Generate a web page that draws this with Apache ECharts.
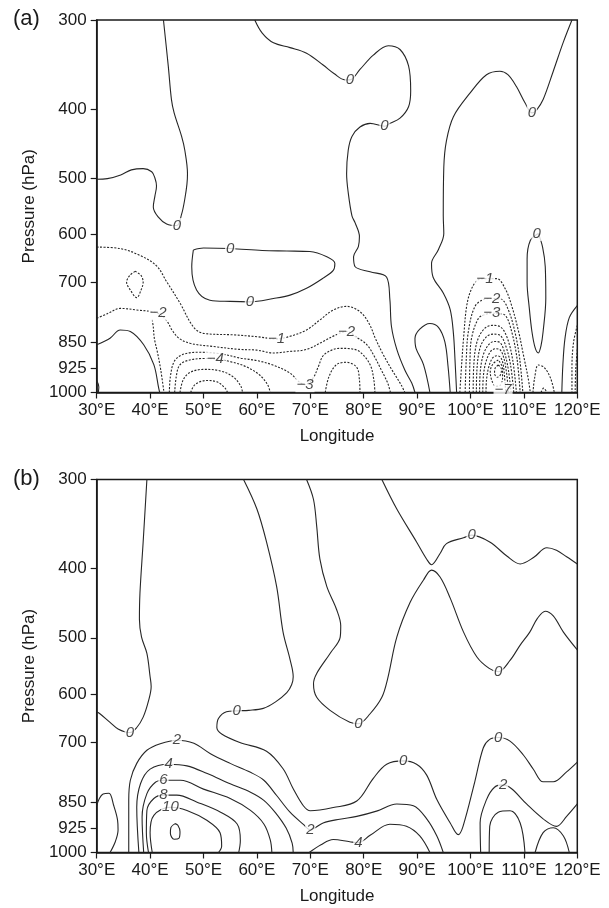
<!DOCTYPE html>
<html>
<head>
<meta charset="utf-8">
<script src="https://cdn.jsdelivr.net/npm/echarts@6/dist/echarts.min.js"></script>
<style>
  html, body { margin: 0; padding: 0; background: #fff; }
  #chart { width: 609px; height: 908px; }
</style>
</head>
<body>
<div id="chart"></div>
<script>
// Axis ticks
const lonTicks = [30, 40, 50, 60, 70, 80, 90, 100, 110, 120];
const pressureTicks = [300, 400, 500, 600, 700, 850, 925, 1000];

// ---------- Panel (a): contour lines as [longitude (°E), pressure (hPa)] ----------
const A_zeroWest = [[30,502],[32,501],[34.5,495],[36.5,487],[38.7,485],[40.3,490],[40.9,500],[41.2,513],[40.9,530],[40.6,549],[41.5,567],[43.1,580],[45,583],[45.9,562],[46.5,535],[46.9,510],[47,493],[46.5,457],[45.9,437],[44.5,405],[44,388],[43.4,348],[42.5,300]];
const A_zeroCentral = [[59.6,300],[61,313],[63.1,323],[66.2,328],[69.3,334],[72.4,347],[74.5,357],[76.5,364],[77.4,364],[79.3,352],[81.8,336],[84.6,326],[86.8,330],[88.4,348],[88.8,377],[88.4,397],[86.8,412],[84.9,419],[83.9,423],[81.2,419],[79.3,424],[77.8,437],[77.1,457],[76.8,493],[77.1,524],[77.8,565],[78.4,578],[79.2,604],[79,624],[78.1,645],[78.4,666],[81.2,677],[84.3,689],[84.9,740],[85.2,808],[86.2,870],[87.7,930],[89,970],[89.6,1000]];
const A_zeroEast = [[119,300],[117.4,322],[115.5,354],[113.6,388],[112.4,401],[111.5,405],[110.2,392],[108.6,372],[107,358],[105.5,354],[103,358],[99.9,380],[96.8,410],[95.5,443],[95,483],[94.9,565],[95,598],[94,630],[92.7,659],[93,689],[94.9,725],[96.2,765],[96.8,826],[97.1,900],[97.4,1000]];
const A_zeroLoop = [[48.1,631],[47.8,666],[48.7,718],[51.2,742],[55,745],[58.7,746],[63.1,738],[66.2,730],[69.3,714],[72.4,691],[74.3,674],[74.6,659],[73.1,645],[69.9,634],[65.6,633],[61,632],[55,628],[50,627],[48.1,631]];
const A_zeroNarrow = [[112.7,598],[111.2,612],[110.6,650],[110.6,700],[111,760],[111.5,821],[112.1,865],[112.7,880],[113.2,860],[113.6,821],[114.1,738],[114,666],[113.5,625],[112.7,598]];
const A_zeroArch = [[92.4,1000],[91.2,914],[89.8,867],[89.6,840],[90.5,815],[92.4,800],[94,810],[95.2,849],[95.8,920],[96.2,1000]];
const A_zeroLow = [[30,857],[32.5,839],[34.4,817],[36.3,821],[38.8,857],[40.7,914],[41.6,985],[41.8,1000]];
const A_zeroCorner = [[30,962],[30.4,982],[30.3,1000]];
const A_zeroEdge = [[120,755],[118.5,785],[117.7,839],[117.3,914],[117.1,1000]];

const A_m1West = [[30,625],[34.4,628],[38.1,642],[41.2,664],[43.1,699],[45.6,749],[48.1,809],[50,826],[55.6,830],[60,835],[63.7,841],[66.2,834],[69.3,817],[71.8,791],[74.3,766],[76.8,757],[79.3,770],[81,800],[82.2,840],[83.5,880],[85.3,930],[87,975],[87.7,1000]];
const A_m2Pocket = [[37.2,676],[36.2,685],[35.6,700],[36.3,718],[37.5,736],[38.3,718],[38.7,700],[38.3,685],[37.2,676]];
const A_m2West = [[30,787],[32,775],[34.4,762],[37.5,766],[41.5,774],[43.2,795],[44.1,817],[45.4,839],[47.5,853],[51.9,862],[56.8,870],[60,872],[63.1,880],[66,876],[69.3,870],[72.4,848],[74.5,832],[76.8,821],[78.7,837],[80.6,857],[82,890],[83.3,930],[84.5,970],[85,1000]];
const A_m2Stem = [[40.4,790],[40.6,810],[40.8,840],[41.4,880],[42,930],[42.6,1000]];
const A_m3West = [[43.6,1000],[43.8,950],[44.5,905],[46,885],[49,878],[53,882],[57,895],[60,902],[63,915],[66,937],[69,975],[70.5,955],[71.5,920],[72.4,888],[74,872],[75.6,867],[77.5,868],[79.3,877],[81.2,914],[81.9,960],[82.1,1000]];
const A_m4West = [[44.6,1000],[44.9,950],[45.5,916],[47,902],[50,896],[52.2,897],[55,905],[58,920],[60.5,945],[62,975],[62.5,1000]];
const A_m5West = [[45.6,1000],[46.2,960],[47.5,937],[50,928],[53,932],[55.5,950],[57,980],[57.3,1000]];
const A_m6West = [[47.6,1000],[48.4,975],[50.5,962],[52.5,966],[54,985],[54.5,1000]];
const A_m4Central = [[72.8,1000],[73.5,950],[74.9,914],[76.8,907],[78.7,922],[79.2,960],[79.3,1000]];

const A_m1East = [[98,1000],[98.4,900],[98.7,839],[99.3,755],[100.2,715],[101.5,694],[102.7,692],[104.9,692],[106.5,715],[107.7,755],[109,821],[109.9,885],[110.8,955],[111.2,1000]];
const A_m2East = [[99,1000],[99.2,900],[99.6,821],[100.8,758],[102.5,740],[104,738],[105.8,740],[107.1,766],[108.3,821],[109.2,895],[109.8,1000]];
const A_m3East = [[99.8,1000],[99.9,900],[100.2,839],[101.5,787],[103,776],[104,774],[105.2,775],[106.5,779],[107.7,821],[108.7,895],[109.3,1000]];
const A_m4East = [[100.5,1000],[100.6,920],[101.2,850],[102.5,815],[104,805],[105.5,808],[106.8,835],[107.9,900],[108.6,1000]];
const A_m5East = [[101.1,1000],[101.2,930],[101.8,865],[103,835],[104.3,828],[105.6,832],[106.6,860],[107.5,915],[108.1,1000]];
const A_m6East = [[101.7,1000],[101.8,940],[102.4,885],[103.5,855],[104.5,848],[105.6,852],[106.4,880],[107.1,930],[107.6,1000]];
const A_m7East = [[102.3,1000],[102.4,950],[102.9,905],[103.8,875],[104.7,868],[105.6,872],[106.3,898],[106.8,945],[107.1,1000]];
const A_m8East = [[102.9,1000],[103,960],[103.4,922],[104.1,895],[104.9,888],[105.6,892],[106.1,912],[106.4,955],[106.6,1000]];
const A_m9East = [[105.2,900],[104.2,912],[103.7,935],[104,962],[104.7,980],[105.5,978],[106,955],[106,925],[105.2,900]];
const A_m10East = [[105.2,915],[104.6,925],[104.5,940],[105,952],[105.6,945],[105.8,928],[105.2,915]];
const A_m1Saddle = [[111.7,1000],[112,955],[112.7,915],[113.8,922],[115,955],[115.7,1000]];
const A_m2Small = [[113.2,1000],[113.7,986],[114.3,1000]];
const A_m1Edge = [[120,805],[119.3,850],[119,920],[119,1000]];
const A_m2Edge = [[120,870],[119.7,930],[119.6,1000]];

// contour labels: [longitude, pressure, text]
const A_labels = [[45,583,'0'],[77.4,364,'0'],[83.9,423,'0'],[111.5,405,'0'],[112.4,598,'0'],[55,628,'0'],[58.7,746,'0'],[41.5,774,'\u22122'],[63.7,841,'\u22121'],[76.8,821,'\u22122'],[52.2,897,'\u22124'],[69,975,'\u22123'],[102.7,692,'\u22121'],[104,738,'\u22122'],[104,774,'\u22123'],[106.1,990,'\u22127']];

// ---------- Panel (b) ----------
const B_zeroWest = [[39.4,300],[38.7,367],[38.1,433],[38,471],[38.4,499],[39.4,526],[40,567],[40.2,585],[39.7,613],[38.7,646],[37.5,668],[36.2,679],[34,671],[32.5,657],[30.6,639],[30,635]];
const B_zeroCentral = [[57.5,300],[60,330],[61.8,367],[63.7,424],[64.9,491],[66.2,536],[66.8,567],[66.5,582],[65.6,597],[63.5,615],[61.2,628],[58.5,632],[56.2,633],[54.3,635],[52.8,649],[52.5,668],[53.4,682],[56.8,701],[61.8,721],[64.9,763],[66.8,814],[68.7,860],[70,874],[74.3,865],[78.7,847],[81.8,787],[84.3,752],[87.4,744],[89.9,752],[91.8,779],[93.7,843],[96.2,909],[97.7,944],[98.6,919],[100.8,796],[102.4,713],[103.6,694],[105.2,690],[107.4,698],[109.9,730],[111.8,765],[113.6,796],[115.5,796],[118,771],[120,747]];
const B_zeroMid = [[69.3,300],[70.6,320],[71.2,349],[71.8,388],[73.1,424],[74.9,456],[75.7,481],[75.6,499],[73.7,526],[71.2,561],[70.6,580],[71.2,606],[73.7,632],[77.4,657],[79,660],[81.2,639],[83.4,606],[84.5,570],[86.2,499],[88.7,446],[91.2,415],[92.7,402],[94.3,411],[96.2,440],[98.7,491],[101.2,532],[103.5,552],[105.2,558],[107.4,538],[109.3,512],[111.1,491],[112.5,470],[114,459],[115.5,466],[117.4,491],[120,520]];
const B_zeroUpper = [[83.4,300],[86.2,330],[89.9,367],[91.8,388],[92.7,395],[94.3,381],[95.5,369],[98.7,362],[100.2,359],[103.6,367],[106.8,384],[109.3,394],[111.8,386],[114.3,374],[116.1,377],[118,385],[120,394]];
const B_twoWest = [[36,1000],[36,845],[36.3,792],[37.5,750],[39.4,719],[41.9,704],[45,696],[48.2,703],[51.3,727],[55,750],[58.8,772],[61.3,792],[63.7,832],[66.2,878],[68.7,913],[70,929],[72.4,909],[75.5,898],[78.7,890],[82.4,875],[86.2,855],[89.3,860],[91.8,897],[93.7,948],[94.9,1000]];
const B_fourWest = [[37.9,1000],[37.5,864],[38.2,801],[40,764],[43.5,752],[46.9,756],[50.7,775],[55,801],[58.8,823],[61.3,845],[63.5,880],[65.5,925],[66.6,970],[66.8,1000]];
const B_fourMid = [[69.8,1000],[72,975],[74.3,959],[77.4,966],[79,969],[81.2,946],[84.9,913],[88,919],[90.5,948],[92.4,1000]];
const B_six = [[38.8,1000],[38.5,892],[39.4,827],[41,797],[42.5,792],[45.7,792],[50,815],[55,840],[58.8,873],[61.3,912],[62.5,960],[62.8,1000]];
const B_eight = [[39.7,1000],[39.3,938],[39.4,873],[40.7,840],[42.5,831],[45,831],[48.8,850],[53.2,878],[56.3,912],[56.9,962],[56.6,1000]];
const B_ten = [[40.4,1000],[40,938],[40.7,887],[43.8,864],[46.9,873],[50.7,902],[53.1,938],[53.4,980],[52.8,1000]];
const B_twelve = [[44.7,911],[43.9,922],[43.8,940],[44.5,958],[45.4,955],[45.6,935],[45.2,916],[44.7,911]];
const B_westPocket = [[30,860],[30.5,840],[31.2,828],[32.3,826],[33.2,860],[33.9,900],[34,930],[33.5,965],[32.5,1000]];
const B_twoEast = [[101.9,1000],[101.8,909],[103,843],[104.5,810],[106.1,804],[107.7,814],[110.5,855],[113.6,897],[116.1,919],[118,890],[120,855]];
const B_fourEast = [[103.5,1000],[103.6,919],[105.2,878],[107.4,874],[109.3,909],[110.2,1000]];
const B_twoFar = [[112.1,1000],[113.6,938],[115.5,923],[117.4,948],[118.5,1000]];

const B_labels = [[36.2,679,'0'],[56.2,633,'0'],[79,660,'0'],[87.4,744,'0'],[100.2,359,'0'],[105.2,558,'0'],[105.2,690,'0'],[45,696,'2'],[43.5,752,'4'],[42.5,792,'6'],[42.5,831,'8'],[43.8,864,'10'],[70,929,'2'],[79,969,'4'],[106.1,804,'2']];

// contour level of every line
const panelA = [
  [0, A_zeroWest], [0, A_zeroCentral], [0, A_zeroEast], [0, A_zeroLoop], [0, A_zeroNarrow],
  [0, A_zeroArch], [0, A_zeroLow], [0, A_zeroCorner], [0, A_zeroEdge],
  [-1, A_m1West], [-2, A_m2Pocket], [-2, A_m2West], [-2, A_m2Stem], [-3, A_m3West],
  [-4, A_m4West], [-5, A_m5West], [-6, A_m6West], [-4, A_m4Central],
  [-1, A_m1East], [-2, A_m2East], [-3, A_m3East], [-4, A_m4East], [-5, A_m5East],
  [-6, A_m6East], [-7, A_m7East], [-8, A_m8East], [-9, A_m9East], [-10, A_m10East],
  [-1, A_m1Saddle], [-2, A_m2Small], [-1, A_m1Edge], [-2, A_m2Edge]
];
const panelB = [
  [0, B_zeroWest], [0, B_zeroCentral], [0, B_zeroMid], [0, B_zeroUpper],
  [2, B_twoWest], [4, B_fourWest], [4, B_fourMid], [6, B_six], [8, B_eight], [10, B_ten], [12, B_twelve],
  [2, B_westPocket], [2, B_twoEast], [4, B_fourEast], [2, B_twoFar]
];

const INK = '#1a1a1a';
const FONT = '"Liberation Sans", Arial, Helvetica, sans-serif';
const logP = p => Math.log10(p);

function contourSeries(list, idx) {
  return list.map(([level, pts]) => ({
    type: 'line',
    xAxisIndex: idx, yAxisIndex: idx,
    data: pts.map(([lon, p]) => [lon, logP(p)]),
    showSymbol: false, symbol: 'none',
    smooth: 0.35,
    silent: true,
    clip: true,
    z: 2,
    lineStyle: { color: '#262626', width: 1.1, type: level < 0 ? [2, 1.5] : 'solid' }
  }));
}
function labelSeries(list, idx) {
  return {
    type: 'scatter',
    xAxisIndex: idx, yAxisIndex: idx,
    symbolSize: 1,
    silent: true,
    z: 5,
    itemStyle: { color: 'rgba(0,0,0,0)' },
    data: list.map(([lon, p, t]) => ({ value: [lon, logP(p)], name: t })),
    label: {
      show: true, position: 'inside', formatter: d => d.name,
      fontFamily: FONT, fontStyle: 'italic', fontSize: 15, color: INK,
      backgroundColor: '#fff', padding: [0, 1]
    }
  };
}
function xAxis(idx) {
  return {
    type: 'value', gridIndex: idx, min: 30, max: 120, interval: 10,
    name: 'Longitude', nameLocation: 'middle', nameGap: 35,
    nameTextStyle: { fontFamily: FONT, fontSize: 17, color: INK },
    axisLine: { show: true, lineStyle: { color: INK, width: 1.5 } },
    axisTick: { show: true, length: 6, lineStyle: { color: INK, width: 1.2 } },
    axisLabel: { formatter: v => v + '\u00B0E', fontFamily: FONT, fontSize: 17, color: INK, margin: 9 },
    splitLine: { show: false }
  };
}
function yAxis(idx) {
  const ticks = pressureTicks.map(logP);
  return {
    type: 'value', gridIndex: idx, inverse: true,
    min: logP(300), max: logP(1000),
    name: 'Pressure (hPa)', nameLocation: 'middle', nameGap: 58, nameRotate: 90,
    nameTextStyle: { fontFamily: FONT, fontSize: 17, color: INK },
    axisLine: { show: true, lineStyle: { color: INK, width: 1.5 } },
    axisTick: { show: true, length: 6, customValues: ticks, lineStyle: { color: INK, width: 1.2 } },
    axisLabel: {
      customValues: ticks,
      formatter: v => String(Math.round(Math.pow(10, v))),
      fontFamily: FONT, fontSize: 17, color: INK, margin: 10
    },
    splitLine: { show: false }
  };
}

const chart = echarts.init(document.getElementById('chart'), null, { renderer: 'canvas' });
chart.setOption({
  animation: false,
  backgroundColor: '#fff',
  grid: [
    { left: 96.7, top: 20, width: 480.6, height: 372.5, show: true, borderColor: INK, borderWidth: 1.5, backgroundColor: 'transparent' },
    { left: 96.7, top: 479.5, width: 480.6, height: 373, show: true, borderColor: INK, borderWidth: 1.5, backgroundColor: 'transparent' }
  ],
  xAxis: [xAxis(0), xAxis(1)],
  yAxis: [yAxis(0), yAxis(1)],
  graphic: [
    { type: 'text', left: 13, top: 8, style: { text: '(a)', font: '22px ' + FONT, fill: INK } },
    { type: 'text', left: 13, top: 468, style: { text: '(b)', font: '22px ' + FONT, fill: INK } }
  ],
  series: [
    ...contourSeries(panelA, 0),
    ...contourSeries(panelB, 1),
    labelSeries(A_labels, 0),
    labelSeries(B_labels, 1)
  ]
});
</script>
</body>
</html>
